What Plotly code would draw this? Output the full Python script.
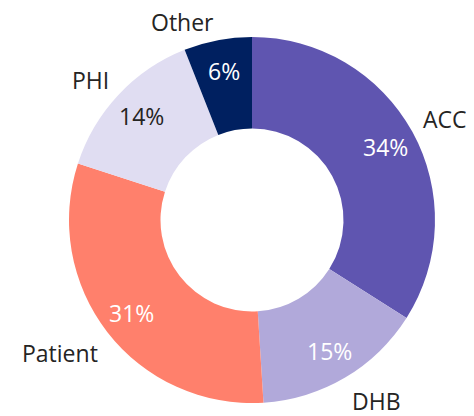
import math
import plotly.graph_objects as go

categories = ["ACC", "DHB", "Patient", "PHI", "Other"]
values = [34, 15, 31, 14, 6]
colors = ["#5F55B0", "#B1A9DA", "#FF806C", "#E0DDF2", "#002060"]
pct_colors = ["white", "white", "white", "#252423", "white"]

W, H = 474, 416
# page body has an 8px margin; pie centre at (244,212) in figure px, radius 183
cx, cy, r = 244, 212, 183
hole = 0.5
dom_x = [(cx - r) / W, (cx + r) / W]
dom_y = [1 - (cy + r) / H, 1 - (cy - r) / H]

font_family = "Segoe UI, Open Sans, sans-serif"
FS = 23

fig = go.Figure()
fig.add_trace(go.Pie(
    labels=categories, values=values, sort=False, direction="clockwise", rotation=0,
    hole=hole, domain=dict(x=dom_x, y=dom_y),
    marker=dict(colors=colors, line=dict(width=0)),
    textinfo="none", showlegend=False, hoverinfo="skip",
))

total = sum(values)
cum = 0
annotations = []
for cat, v, pc in zip(categories, values, pct_colors):
    theta = 2 * math.pi * (cum + v / 2) / total
    cum += v
    s, c = math.sin(theta), math.cos(theta)
    # percentage inside the ring
    rp = r * 0.83
    annotations.append(dict(
        x=(cx + rp * s) / W, y=1 - (cy - rp * c) / H, xref="paper", yref="paper",
        text=f"{round(100 * v / total)}%", showarrow=False,
        font=dict(family=font_family, size=FS, color=pc),
        xanchor="center", yanchor="middle",
    ))
    # category label outside, nearest corner near the anchor point
    rl = r + 10
    upper = c > 0
    annotations.append(dict(
        x=(cx + rl * s) / W, y=1 - (cy - rl * c) / H, xref="paper", yref="paper",
        text=cat, showarrow=False,
        font=dict(family=font_family, size=FS, color="#252423"),
        xanchor="left" if s > 0 else "right",
        yanchor="bottom" if upper else "top",
        yshift=-10 if upper else 3,
    ))

fig.update_layout(
    width=W, height=H, margin=dict(l=0, r=0, t=0, b=0),
    paper_bgcolor="white", plot_bgcolor="white",
    font=dict(family=font_family),
    annotations=annotations,
)
fig.write_html("out.html")
